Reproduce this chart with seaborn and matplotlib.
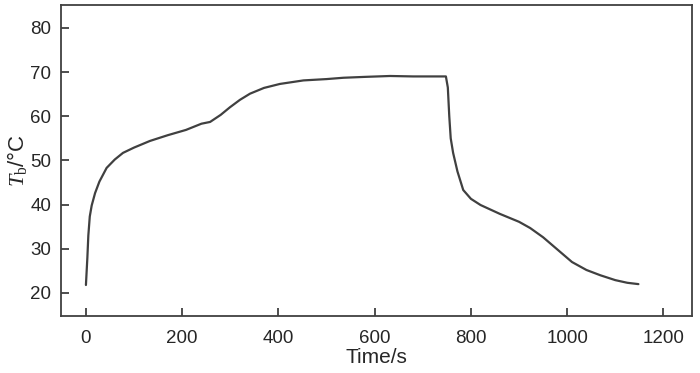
import pandas as pd
import matplotlib
matplotlib.use('Agg')
import matplotlib.pyplot as plt
import seaborn as sns

# Temperature curve
time_s = [0, 3, 5, 8, 12, 19, 28, 43, 60, 77, 100, 133, 170, 208, 240, 258, 280, 299, 320, 341,
          370, 403, 452, 500, 535, 580, 632, 680, 730, 748, 752, 755, 758, 763, 772, 784, 800,
          820, 860, 900, 923, 950, 980, 1010, 1040, 1069, 1100, 1125, 1148]
temp_c = [21.8, 28, 33, 37.3, 39.8, 42.6, 45.2, 48.3, 50.2, 51.7, 52.9, 54.4, 55.7, 56.9, 58.3, 58.7,
          60.3, 62.0, 63.7, 65.1, 66.4, 67.3, 68.1, 68.4, 68.7, 68.9, 69.1, 69.0, 69.0, 69.0,
          66.5, 60, 55, 51.7, 47.5, 43.3, 41.3, 39.9, 37.9, 36.1, 34.7, 32.6, 29.8, 27.0, 25.2,
          24.0, 22.9, 22.3, 22.0]
x_ticks = [0, 200, 400, 600, 800, 1000, 1200]
y_ticks = [20, 30, 40, 50, 60, 70, 80]

df = pd.DataFrame({'Time': time_s, 'Tb': temp_c})

sns.set_style('ticks')
plt.rcParams['font.family'] = ['Liberation Sans', 'DejaVu Sans']
plt.rcParams['mathtext.fontset'] = 'custom'
plt.rcParams['mathtext.rm'] = 'Liberation Serif'
plt.rcParams['mathtext.it'] = 'Liberation Serif:italic'

fig = plt.figure(figsize=(7, 3.73), dpi=100)
ax = fig.add_axes([0.087, 0.153, 0.902, 0.834])

sns.lineplot(data=df, x='Time', y='Tb', ax=ax, color='#404040', linewidth=1.6)

ax.set_xlim(-52, 1260)
ax.set_ylim(14.8, 85.2)
ax.set_xticks(x_ticks)
ax.set_yticks(y_ticks)
ax.tick_params(direction='in', length=6, width=1.2, color='#303030', labelsize=13.5)
ax.tick_params(axis='x', pad=10)
ax.tick_params(axis='y', pad=7)
for s in ax.spines.values():
    s.set_color('#404040')
    s.set_linewidth(1.3)

ax.set_xlabel('Time/s', fontsize=15, labelpad=1)
ax.set_ylabel(r'$T_\mathrm{b}$/°C', fontsize=16, labelpad=1)

fig.savefig('out.png', dpi=100)
